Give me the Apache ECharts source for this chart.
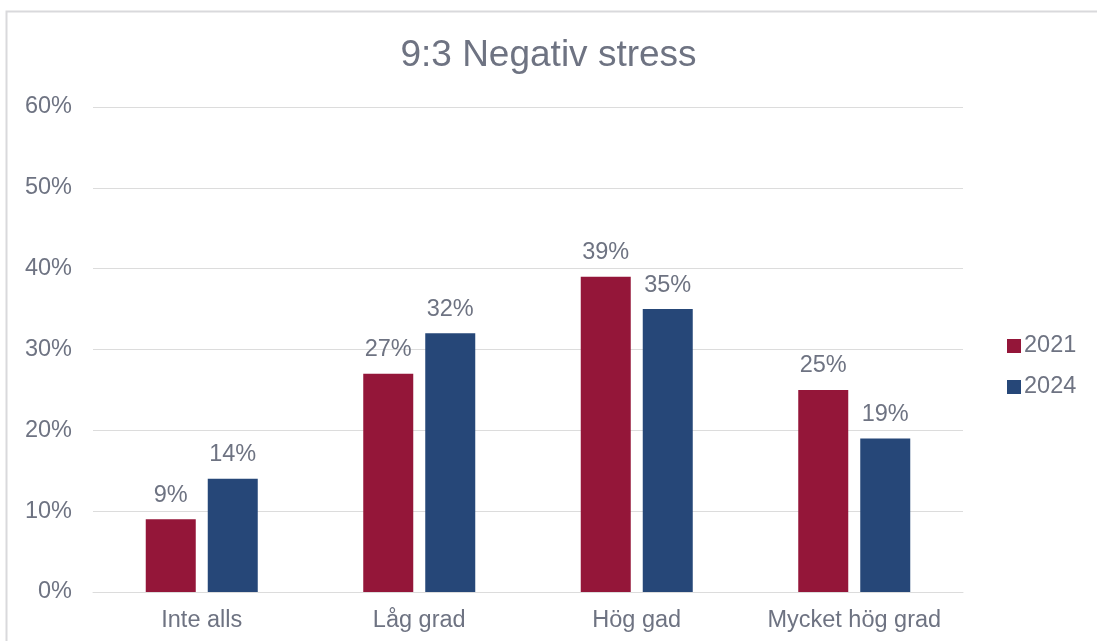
<!DOCTYPE html>
<html>
<head>
<meta charset="utf-8">
<script src="https://cdn.jsdelivr.net/npm/echarts@6/dist/echarts.min.js"></script>
<style>
  html, body { margin: 0; padding: 0; background: #fff; }
  #chart { width: 1097px; height: 641px; }
</style>
</head>
<body>
<div id="chart"></div>
<script>
// data
const categories = ['Inte alls', 'Låg grad', 'Hög gad', 'Mycket hög grad']
const values2021 = [9, 27, 39, 25]
const values2024 = [14, 32, 35, 19]
const seriesNames = ['2021', '2024']

const textColor = '#6e7382'
const gridColor = '#dcdcdc'
const fs = 23.5

let myChart = echarts.init(document.getElementById('chart'))

myChart.setOption({
  animation: false,
  textStyle: { fontFamily: 'Liberation Sans, Arial, sans-serif' },
  graphic: [{
    type: 'rect',
    shape: { x: 6.5, y: 11.5, width: 1200, height: 700 },
    style: { fill: 'none', stroke: '#d9d9dc', lineWidth: 2 },
    silent: true
  }],
  title: {
    text: '9:3 Negativ stress',
    left: 'center',
    top: 32,
    textStyle: { color: textColor, fontSize: 37, fontWeight: 'normal' }
  },
  legend: {
    orient: 'vertical',
    left: 1002,
    top: 329,
    icon: 'rect',
    itemWidth: 14,
    itemHeight: 14,
    itemGap: 17,
    textStyle: { color: textColor, fontSize: fs, padding: [0, 0, 0, -2] },
    data: seriesNames
  },
  grid: {
    left: 93,
    right: 134,
    top: 107,
    bottom: 49
  },
  xAxis: {
    type: 'category',
    data: categories,
    axisLine: { show: true, lineStyle: { color: gridColor, width: 1 } },
    axisTick: { show: false },
    axisLabel: { color: textColor, fontSize: fs, margin: 17, interval: 0 }
  },
  yAxis: {
    type: 'value',
    min: 0,
    max: 60,
    interval: 10,
    axisLine: { show: false },
    axisTick: { show: false },
    axisLabel: { color: textColor, fontSize: fs, margin: 21, formatter: '{value}%' },
    splitLine: { lineStyle: { color: gridColor, width: 1 } }
  },
  series: [
    {
      name: seriesNames[0],
      type: 'bar',
      data: values2021,
      barWidth: 50,
      barGap: '24%',
      itemStyle: { color: '#941639' },
      label: { show: true, position: 'top', distance: 12, color: textColor, fontSize: fs, formatter: '{c}%' }
    },
    {
      name: seriesNames[1],
      type: 'bar',
      data: values2024,
      barWidth: 50,
      itemStyle: { color: '#264778' },
      label: { show: true, position: 'top', distance: 12, color: textColor, fontSize: fs, formatter: '{c}%' }
    }
  ]
})
</script>
</body>
</html>
